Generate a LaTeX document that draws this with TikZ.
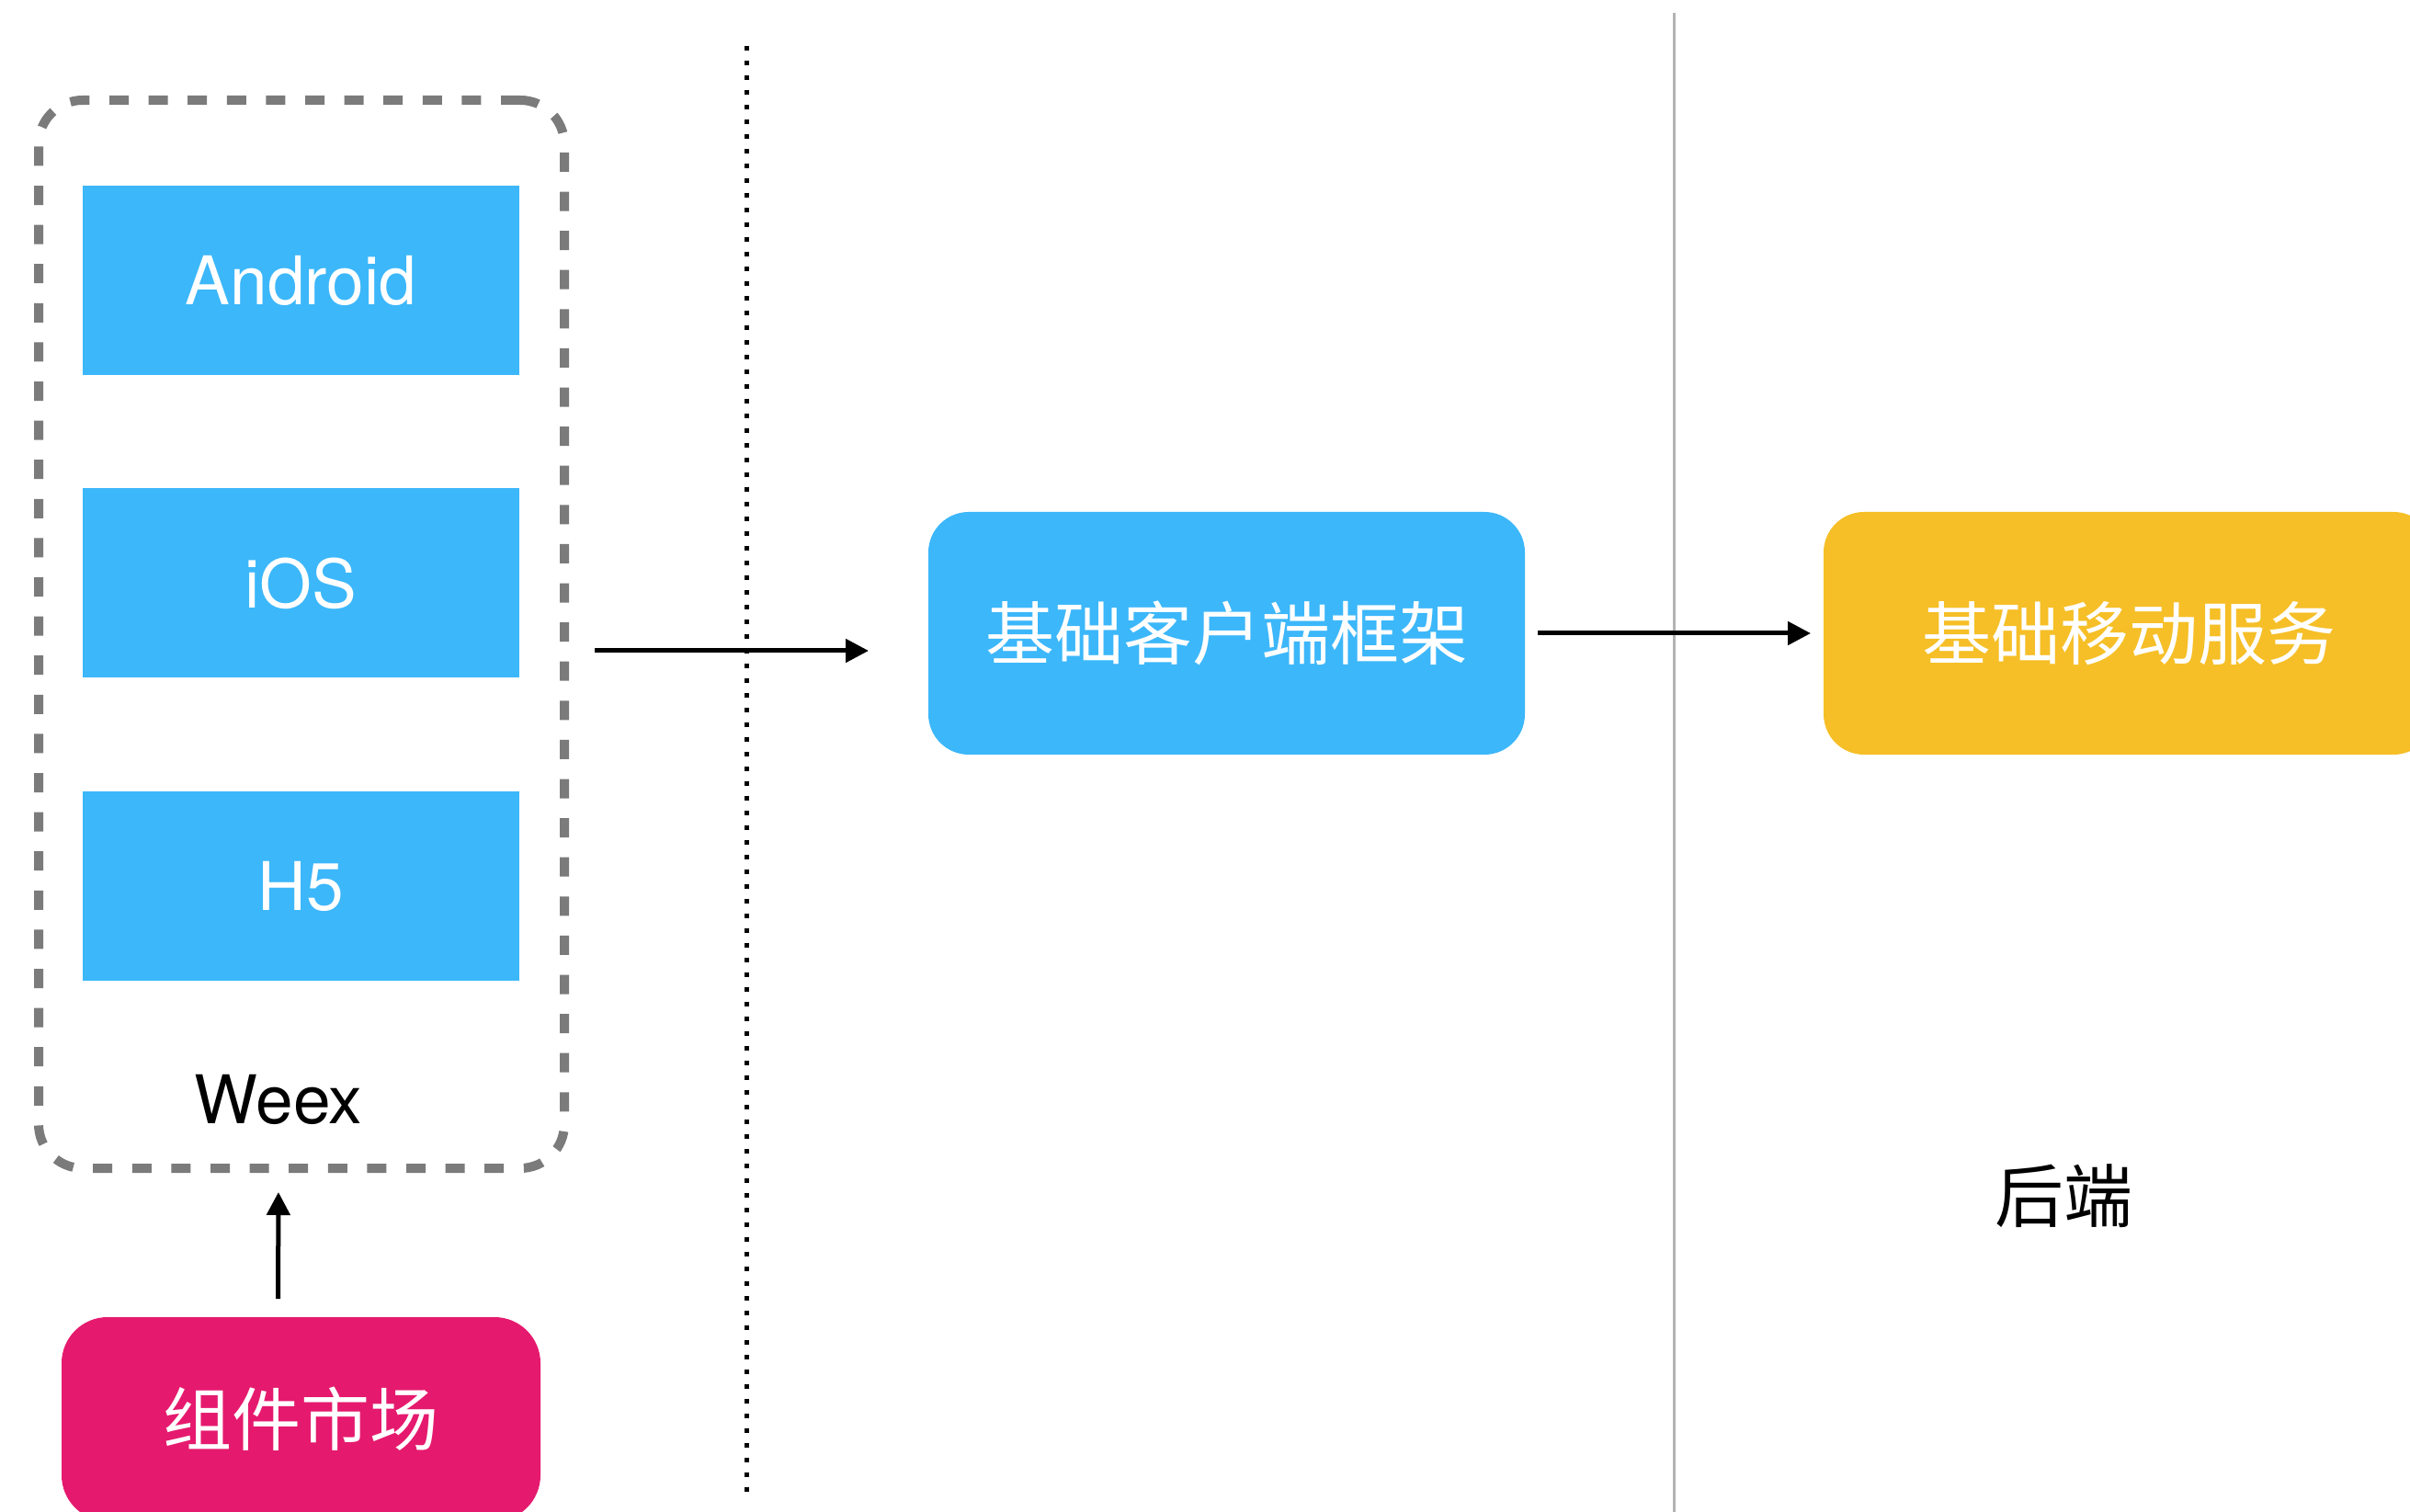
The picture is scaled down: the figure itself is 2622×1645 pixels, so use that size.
\documentclass[tikz,border=0pt]{standalone}
\usepackage{fontspec}
\setmainfont{TeX Gyre Heros}
\newfontfamily\cjk{Noto Sans CJK SC}
\usetikzlibrary{arrows.meta}
\definecolor{skyblue}{HTML}{3CB7FA}
\definecolor{rosered}{HTML}{E51A6E}
\definecolor{sunyellow}{HTML}{F6BF27}
\definecolor{dashgray}{HTML}{7B7B7B}
\definecolor{linegray}{HTML}{B3B3B3}
\begin{document}
\begin{tikzpicture}[x=0.25pt,y=-0.25pt,
  latinfont/.style={font=\fontsize{18.25pt}{20pt}\selectfont},
  cjkfont/.style={font=\cjk\fontsize{18.75pt}{20pt}\selectfont},
  platbox/.style={fill=skyblue, minimum width=118.75pt, minimum height=51.5pt,
    text=white, latinfont, inner sep=0pt, outer sep=0pt},
  roundbox/.style={rounded corners=11pt, minimum height=66pt, text=white,
    cjkfont, inner sep=0pt, outer sep=0pt},
  groupbox/.style={draw=dashgray, line width=2.5pt, dash pattern=on 5.25pt off 5.4pt,
    rounded corners=12pt, inner sep=0pt},
  arr/.style={-{Triangle[length=6.25pt,width=6.25pt]}, line width=1.25pt},
  sepdots/.style={line width=1.25pt, dash pattern=on 1.25pt off 2.75pt},
  sepline/.style={line width=0.75pt, draw=linegray}
]
\useasboundingbox (0,0) rectangle (2622,1645);

% separators
\draw[sepdots] (812,50) -- (812,1623);
\draw[sepline] (1821.5,14) -- (1821.5,1645);

% Weex group
\node[groupbox, minimum width=143pt, minimum height=290.5pt] (weex) at (328,690) {};
\node[platbox] (android) at (327.5,305) {Android};
\node[platbox] (ios) at (327.5,634.5) {iOS};
\node[platbox] (h5) at (327.5,964) {H5};
\node[latinfont, anchor=base, inner sep=0pt] (weexlabel) at (303,1222) {Weex};

% component market
\node[roundbox, fill=rosered, rounded corners=12.5pt, minimum width=130.25pt,
  minimum height=55.5pt] (market) at (327.5,1544) {组件市场};

% client framework
\node[roundbox, fill=skyblue, minimum width=162.25pt] (client) at (1334.5,689) {基础客户端框架};

% mobile service
\node[roundbox, fill=sunyellow, minimum width=166pt] (service) at (2316,689) {基础移动服务};

% backend label
\node[cjkfont, inner sep=0pt] (backend) at (2245,1301) {后端};

% connectors
\draw[arr, shorten <=7pt, shorten >=16.25pt]
  ([yshift=-4.5pt]weex.east) -- ([yshift=-4.5pt]weex.east -| client.west);
\draw[arr, shorten <=3.5pt, shorten >=3.5pt] (client.east) -- (service.west);
\draw[arr, shorten <=5pt, shorten >=5.25pt]
  ([xshift=-6.25pt]market.north) -- ([xshift=-6.25pt]weex.south);
\end{tikzpicture}
\end{document}
